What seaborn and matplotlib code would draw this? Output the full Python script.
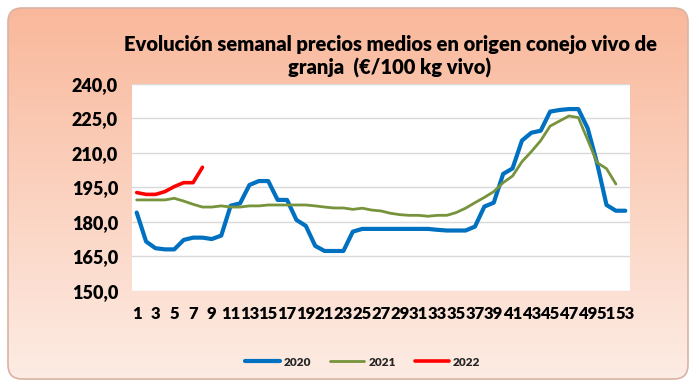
import numpy as np
import pandas as pd
import matplotlib
matplotlib.use("Agg")
import matplotlib.pyplot as plt
from matplotlib.patches import FancyBboxPatch
import seaborn as sns

# Weekly average prices (€/100 kg live weight)
weeks = list(range(1, 54))
price_2020 = [184.1, 171.5, 168.6, 168.1, 168.1, 172.2, 173.2, 173.2, 172.6, 174.1,
              187.1, 188.1, 196.1, 197.8, 197.8, 189.6, 189.6, 180.9, 178.3, 169.6,
              167.4, 167.4, 167.4, 175.8, 177.0, 177.0, 177.0, 177.0, 177.0, 177.0,
              177.0, 177.0, 176.6, 176.3, 176.3, 176.3, 178.0, 186.7, 188.4, 200.9,
              203.3, 215.4, 218.8, 219.7, 228.0, 228.7, 229.1, 229.1, 220.7, 205.5,
              187.4, 184.9, 184.9]
price_2021 = [189.6, 189.6, 189.6, 189.6, 190.3, 189.1, 187.7, 186.5, 186.5, 187.0,
              186.5, 186.5, 187.0, 187.0, 187.4, 187.4, 187.4, 187.4, 187.4, 187.0,
              186.5, 186.1, 186.1, 185.5, 186.0, 185.2, 184.8, 183.8, 183.2, 182.9,
              182.9, 182.5, 182.9, 182.9, 184.1, 186.0, 188.4, 190.7, 193.2, 197.1,
              200.0, 206.2, 210.6, 215.4, 221.7, 223.9, 226.1, 225.4, 215.7, 205.8,
              203.2, 196.5]
price_2022 = [192.8, 192.0, 192.0, 193.2, 195.4, 197.1, 197.1, 203.8]

series = {"2020": price_2020, "2021": price_2021, "2022": price_2022}
palette = {"2020": "#0070C0", "2021": "#77933C", "2022": "#FF0000"}
widths = {"2020": 3.0, "2021": 2.0, "2022": 2.6}

frames = []
for year, vals in series.items():
    frames.append(pd.DataFrame({"pos": np.arange(len(vals)), "precio": vals, "año": year}))
df = pd.concat(frames, ignore_index=True)

sns.set_theme(style="white")
plt.rcParams["font.family"] = ["Lato", "DejaVu Sans"]

W, H = 694, 385
fig = plt.figure(figsize=(W / 100, H / 100), dpi=100)
fig.patch.set_facecolor("white")

# Gradient panel with rounded corners behind the chart
bg = fig.add_axes([0, 0, 1, 1], zorder=0)
bg.set_xlim(0, W)
bg.set_ylim(0, H)
bg.axis("off")
top = np.array([249, 184, 155]) / 255
bottom = np.array([253, 236, 228]) / 255
t = np.linspace(0, 1, 256)[:, None]
grad = (bottom[None, :] * (1 - t) + top[None, :] * t)[:, None, :]
grad = np.repeat(grad, 2, axis=1)
panel = FancyBboxPatch((8, 6), W - 14, H - 14, boxstyle="round,pad=0,rounding_size=14",
                       facecolor="none", edgecolor="#d9b3a5", linewidth=1.2)
bg.add_patch(panel)
img = bg.imshow(grad, extent=(8, W - 6, 6, H - 8), origin="lower", aspect="auto",
                interpolation="bilinear")
img.set_clip_path(panel)

ax = fig.add_axes([132 / W, 1 - 291 / H, (630 - 132) / W, (291 - 84) / H], zorder=1)
ax.set_facecolor("white")

for year in series:
    sub = df[df["año"] == year]
    sns.lineplot(data=sub, x="pos", y="precio", color=palette[year], linewidth=widths[year],
                 ax=ax, label=year, solid_capstyle="round", solid_joinstyle="round")

ax.set_xlim(-0.5, len(weeks) - 0.5)
ax.set_ylim(150, 240)
ax.set_yticks(np.arange(150, 241, 15))
ax.set_yticklabels([f"{v:.1f}".replace(".", ",") for v in np.arange(150, 241, 15)],
                   fontsize=13, fontweight="heavy", color="black")
xt = [i for i, w in enumerate(weeks) if w % 2 == 1]
ax.set_xticks(xt)
ax.set_xticklabels([str(weeks[i]) for i in xt], fontsize=12, fontweight="heavy", color="black")
ax.tick_params(axis="both", length=0)
ax.tick_params(axis="y", pad=10)
ax.tick_params(axis="x", pad=11)
ax.grid(axis="y", color="#d9d9d9", linewidth=1)
ax.set_axisbelow(True)
for s in ax.spines.values():
    s.set_visible(False)
ax.set_xlabel("")
ax.set_ylabel("")

handles, labels = ax.get_legend_handles_labels()
ax.legend_.remove()
leg = fig.legend(handles, labels, loc="center", bbox_to_anchor=(363 / W, 1 - 362 / H),
                 ncol=3, frameon=False, handlelength=2.9, columnspacing=1.6,
                 handletextpad=0.35, prop={"weight": "heavy", "size": 8.5})

fig.text(390 / W, 1 - 44 / H, "Evolución semanal precios medios en origen conejo vivo de",
         ha="center", va="center", fontsize=14.5, fontweight="heavy", color="black")
fig.text(390 / W, 1 - 68 / H, "granja  (€/100 kg vivo)",
         ha="center", va="center", fontsize=14.5, fontweight="heavy", color="black")

fig.savefig("out.png", dpi=100)
